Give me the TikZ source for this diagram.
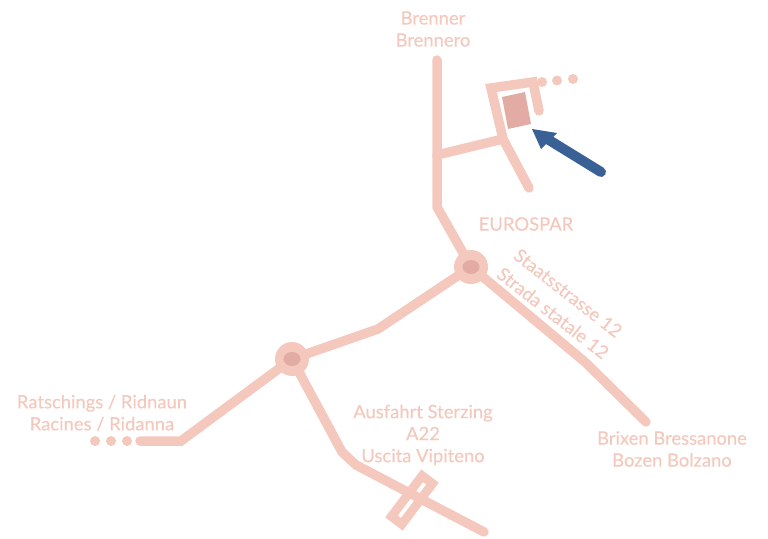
\documentclass[tikz,border=0pt]{standalone}
\usepackage{fontspec}
\setmainfont{Lato}[BoldFont=Lato,BoldFeatures={FakeBold=0.25}]
\usetikzlibrary{
		calc,
		positioning,
		shapes.geometric,
		arrows.meta
	}
\definecolor{roadpink}{HTML}{F4C8BC}
\definecolor{shoprose}{HTML}{E2ABA4}
\definecolor{arrowblue}{HTML}{3A6196}
\tikzset{
		>=stealth
	}
\begin{document}
\begin{tikzpicture}[x=1pt, y=-1pt,
					road/.style={draw=roadpink, line width=9.5pt, line cap=round, line join=miter},
					place/.style={text=roadpink, font=\fontsize{18.4}{22}\selectfont\bfseries, align=center, inner sep=0pt},
					dot/.style={circle, fill=roadpink, minimum size=10pt, inner sep=0pt},
					ring/.style={circle, fill=roadpink, minimum size=34pt, inner sep=0pt},
					hub/.style={ellipse, fill=shoprose, minimum width=17pt, minimum height=14pt, inner sep=0pt}]
		\useasboundingbox (0,0) rectangle (768,538);
		% road corners
		\coordinate (north) at (437,60);
		\coordinate (bend) at (437,207);
		\coordinate (fork) at (437,155);
		\coordinate (shopfork) at (503,139);
		\coordinate (shopend) at (529,188);
		\coordinate (shopa) at (491,88);
		\coordinate (shopb) at (533,82);
		\coordinate (shopc) at (539,111);
		\coordinate (midbend) at (378,329);
		\coordinate (east) at (585,362);
		\coordinate (eastend) at (646,422);
		\coordinate (west) at (181,441);
		\coordinate (westend) at (140,441);
		\coordinate (exita) at (342,452);
		\coordinate (exitb) at (356,465);
		\coordinate (exitend) at (484,532);
		% roads
		\node[ring] (ringa) at (471,267) {};
		\node[ring] (ringb) at (292,359) {};
		\draw[road] (north) -- (bend) -- (ringa.center);
		\draw[road] (fork) -- (shopfork);
		\draw[road] (shopend) -- (shopfork) -- (shopa) -- (shopb) -- (shopc);
		\draw[road] (ringa.center) -- (midbend) -- (ringb.center);
		\draw[road] (ringa.center) -- (east) -- (eastend);
		\draw[road] (ringb.center) -- (west) -- (westend);
		\draw[road] (ringb.center) -- (exita) -- (exitb) -- (exitend);
		\node[hub] (huba) at (ringa) {};
		\node[hub] (hubb) at (ringb) {};
		% motorway exit
		\node[draw=roadpink, line width=9pt, minimum width=51pt, minimum height=13pt, inner sep=0pt, rotate=53] (exit) at (412,500) {};
		% dots
		\node[dot] (dota) at (542,82) {};
		\node[dot] (dotb) at (557,80.5) {};
		\node[dot] (dotc) at (573,79) {};
		\node[dot] (dotd) at (127,441) {};
		\node[dot] (dote) at (111,441) {};
		\node[dot] (dotf) at (95,441) {};
		% shop and arrow
		\coordinate (shopnw) at (502,97);
		\coordinate (shopne) at (525,92);
		\coordinate (shopse) at (531,124);
		\coordinate (shopsw) at (508,129);
		\fill[shoprose] (shopnw) -- (shopne) -- (shopse) -- (shopsw) -- cycle;
		\coordinate (arrowtail) at (601,172);
		\coordinate (arrowbase) at (549,140);
		\coordinate (arrowtip) at (532,129);
		\draw[arrowblue, line width=10pt, line cap=round] (arrowtail) -- (arrowbase);
		\fill[arrowblue] (arrowtip) -- (557,133) -- (541,149) -- cycle;
		% labels
		\node[place] (brenner) at (433,29) {Brenner\\Brennero};
		\node[place] (spar) at (526,224) {EUROSPAR};
		\node[place, rotate=-38] (statea) at (568,293) {Staatsstrasse 12};
		\node[place, rotate=-38] (stateb) at (553,313) {Strada statale 12};
		\node[place] (ratschings) at (102,413) {Ratschings / Ridnaun\\Racines / Ridanna};
		\node[place] (ausfahrt) at (423,435) {Ausfahrt Sterzing\\A22\\Uscita Vipiteno};
		\node[place] (brixen) at (672,449) {Brixen Bressanone\\Bozen Bolzano};
\end{tikzpicture}
\end{document}
